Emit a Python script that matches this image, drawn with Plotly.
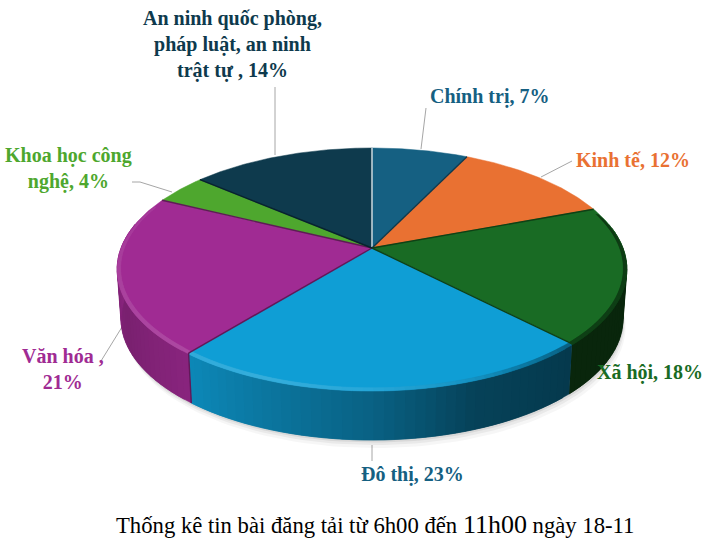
import numpy as np
import plotly.graph_objects as go

categories = ["Chính trị", "Kinh tế", "Xã hội", "Đô thị", "Văn hóa", "Khoa học công nghệ",
              "An ninh quốc phòng, pháp luật, an ninh trật tự"]
values = [7.2, 12.1, 18.4, 23.2, 21.3, 4.0, 13.8]
colors = ["#156082", "#e97132", "#196b24", "#0f9ed5", "#a02b93", "#4ea72e", "#0e3a4d"]
caption_a = "Thống kê tin bài đăng tải từ 6h00 đến "
caption_b = "11h00"
caption_c = " ngày 18-11"

# Projection of the tilted disc into the page (pixels)
CX, CY, A, B, K, DEPTH = 372.0, 248.0, 251.0, 117.4, 0.1736, 50.0


def project(theta_deg, r=1.0, z=0.0):
    t = np.radians(theta_deg)
    u, v = r * np.sin(t), r * np.cos(t)
    w = 1 + K * v
    shrink = 1 - 0.015 * z / DEPTH
    return CX + shrink * A * u / w, CY - B * v / w + z


def rgb(h):
    return np.array([int(h[i:i + 2], 16) for i in (1, 3, 5)], float)


def to_css(c):
    c = np.clip(c, 0, 255)
    return f"rgb({int(c[0])},{int(c[1])},{int(c[2])})"


def wall_color(base, theta):
    g = np.interp(theta, [85, 135, 160, 180, 218, 245, 275], [0.36, 0.36, 0.42, 0.62, 0.86, 0.76, 0.88])
    return to_css(rgb(base) * g)


def bevel_color(base, theta):
    c = rgb(base)
    light = np.interp(theta, [85, 150, 175, 200, 275], [0, 0, 0.08, 0.16, 0.08])
    dark = np.interp(theta, [75, 135, 160, 180], [0.55, 0.6, 0.9, 1.0])
    c = c * dark
    return to_css(c + (255 - c) * light)


def poly(xs, ys, color, width=0.5, line=None):
    return go.Scatter(x=xs, y=ys, mode="lines", fill="toself", fillcolor=color,
                      line=dict(color=line or color, width=width), hoverinfo="skip", showlegend=False)


fractions = np.array(values, float) / sum(values)
edges = np.concatenate([[0], np.cumsum(fractions) * 360])
fig = go.Figure()

# soft shadow under the body
sweep = np.arange(70, 291, 2.0)
for z, alpha in [(58, 0.035), (55, 0.05), (52.5, 0.07)]:
    x1, y1 = project(sweep, 1.0, z)
    x0, y0 = project(sweep, 1.0, 0)
    fig.add_trace(poly(np.concatenate([x1 + (z - 50) * 0.4, x0[::-1]]), np.concatenate([y1, y0[::-1]]),
                       f"rgba(0,0,0,{alpha})", width=0, line="rgba(0,0,0,0)"))

# side wall, visible part of each slice; each quad runs under the next one to hide seams
STEP = 2.0
for i, base in enumerate(colors):
    start, end = max(edges[i], 78.0), min(edges[i + 1], 282.0)
    if end <= start:
        continue
    ticks = np.append(np.arange(start, end, STEP), end)
    for a, b in zip(ticks[:-1], ticks[1:]):
        arc = np.linspace(a, min(b + STEP, end), 3)
        xt, yt = project(arc)
        xb, yb = project(arc, 1.0, DEPTH)
        fig.add_trace(poly(np.concatenate([xt, xb[::-1]]), np.concatenate([yt, yb[::-1]]),
                           wall_color(base, (a + b) / 2)))

# top faces
for i, base in enumerate(colors):
    arc = np.linspace(edges[i], edges[i + 1], 90)
    x, y = project(arc)
    fig.add_trace(poly(np.concatenate([[CX], x, [CX]]), np.concatenate([[CY], y, [CY]]), base))

# rim highlight / shade along the front edge
for i, base in enumerate(colors):
    start, end = max(edges[i], 72.0), min(edges[i + 1], 292.0)
    if end <= start:
        continue
    ticks = np.append(np.arange(start, end, STEP), end)
    for a, b in zip(ticks[:-1], ticks[1:]):
        arc = np.linspace(a, min(b + STEP, end), 3)
        xo, yo = project(arc, 1.0, 0)
        xi, yi = project(arc, 0.987, 0)
        fig.add_trace(poly(np.concatenate([xo, xi[::-1]]), np.concatenate([yo + 1, yi[::-1]]),
                           bevel_color(base, (a + b) / 2), width=0.3))

# slice boundaries on the top face
lum = [rgb(c) @ np.array([0.3, 0.59, 0.11]) for c in colors]
for i in range(len(colors)):
    owner = i if lum[i] < lum[i - 1] else i - 1
    color = "#dbe5ea" if i == 0 else to_css(rgb(colors[owner]) * 0.6)
    x, y = project(np.array([edges[i]]))
    fig.add_trace(go.Scatter(x=[CX, x[0]], y=[CY, y[0]], mode="lines",
                             line=dict(color=color, width=1.4), hoverinfo="skip", showlegend=False))
    if 180 < edges[i] < 270:
        xb, yb = project(np.array([edges[i]]), 1.0, DEPTH)
        fig.add_trace(go.Scatter(x=[x[0], xb[0]], y=[y[0], yb[0]], mode="lines",
                                 line=dict(color=color, width=1.4), hoverinfo="skip", showlegend=False))

labels = [
    ("Chính trị, 7%", 489, 96, "#156082"),
    ("Kinh tế, 12%", 633, 160, "#e97132"),
    ("Xã hội, 18%", 650, 372, "#196b24"),
    ("Đô thị, 23%", 412, 474, "#156082"),
    ("Văn hóa ,<br>21%", 63, 369, "#a02b93"),
    ("Khoa học công<br>nghệ, 4%", 68, 168, "#4ea72e"),
    ("An ninh quốc phòng,<br>pháp luật, an ninh<br>trật tự , 14%", 232, 44, "#0e3a4d"),
]
annotations = [dict(x=x, y=y, text=t, showarrow=False, xanchor="center", yanchor="middle", align="center",
                    font=dict(family="Liberation Serif", size=20, color=c, weight=700)) for t, x, y, c in labels]
annotations.append(dict(
    x=375, y=524, showarrow=False, xanchor="center", yanchor="middle",
    text=f'{caption_a}<span style="font-size:26px">{caption_b}</span>{caption_c}',
    font=dict(family="Liberation Serif", size=22.7, color="#000000")))

leaders = [
    [(421, 149), (426, 108)],
    [(541, 177), (572, 161)],
    [(372, 445), (372, 461)],
    [(122, 327), (101, 361)],
    [(172, 192), (140, 182), (132, 182)],
    [(275, 155), (275, 87)],
]
shapes = []
for pts in leaders:
    for (x0, y0), (x1, y1) in zip(pts[:-1], pts[1:]):
        shapes.append(dict(type="line", x0=x0, y0=y0, x1=x1, y1=y1, layer="below",
                           line=dict(color="#a6a6a6", width=1)))

fig.update_layout(
    width=708, height=543, margin=dict(l=0, r=0, t=0, b=0),
    paper_bgcolor="white", plot_bgcolor="white", showlegend=False,
    xaxis=dict(range=[0, 708], visible=False, fixedrange=True),
    yaxis=dict(range=[543, 0], visible=False, fixedrange=True),
    annotations=annotations, shapes=shapes,
)
fig.write_html("out.html", config={"displayModeBar": False},
               post_script="document.body.style.margin='0';document.body.style.overflow='hidden';")
